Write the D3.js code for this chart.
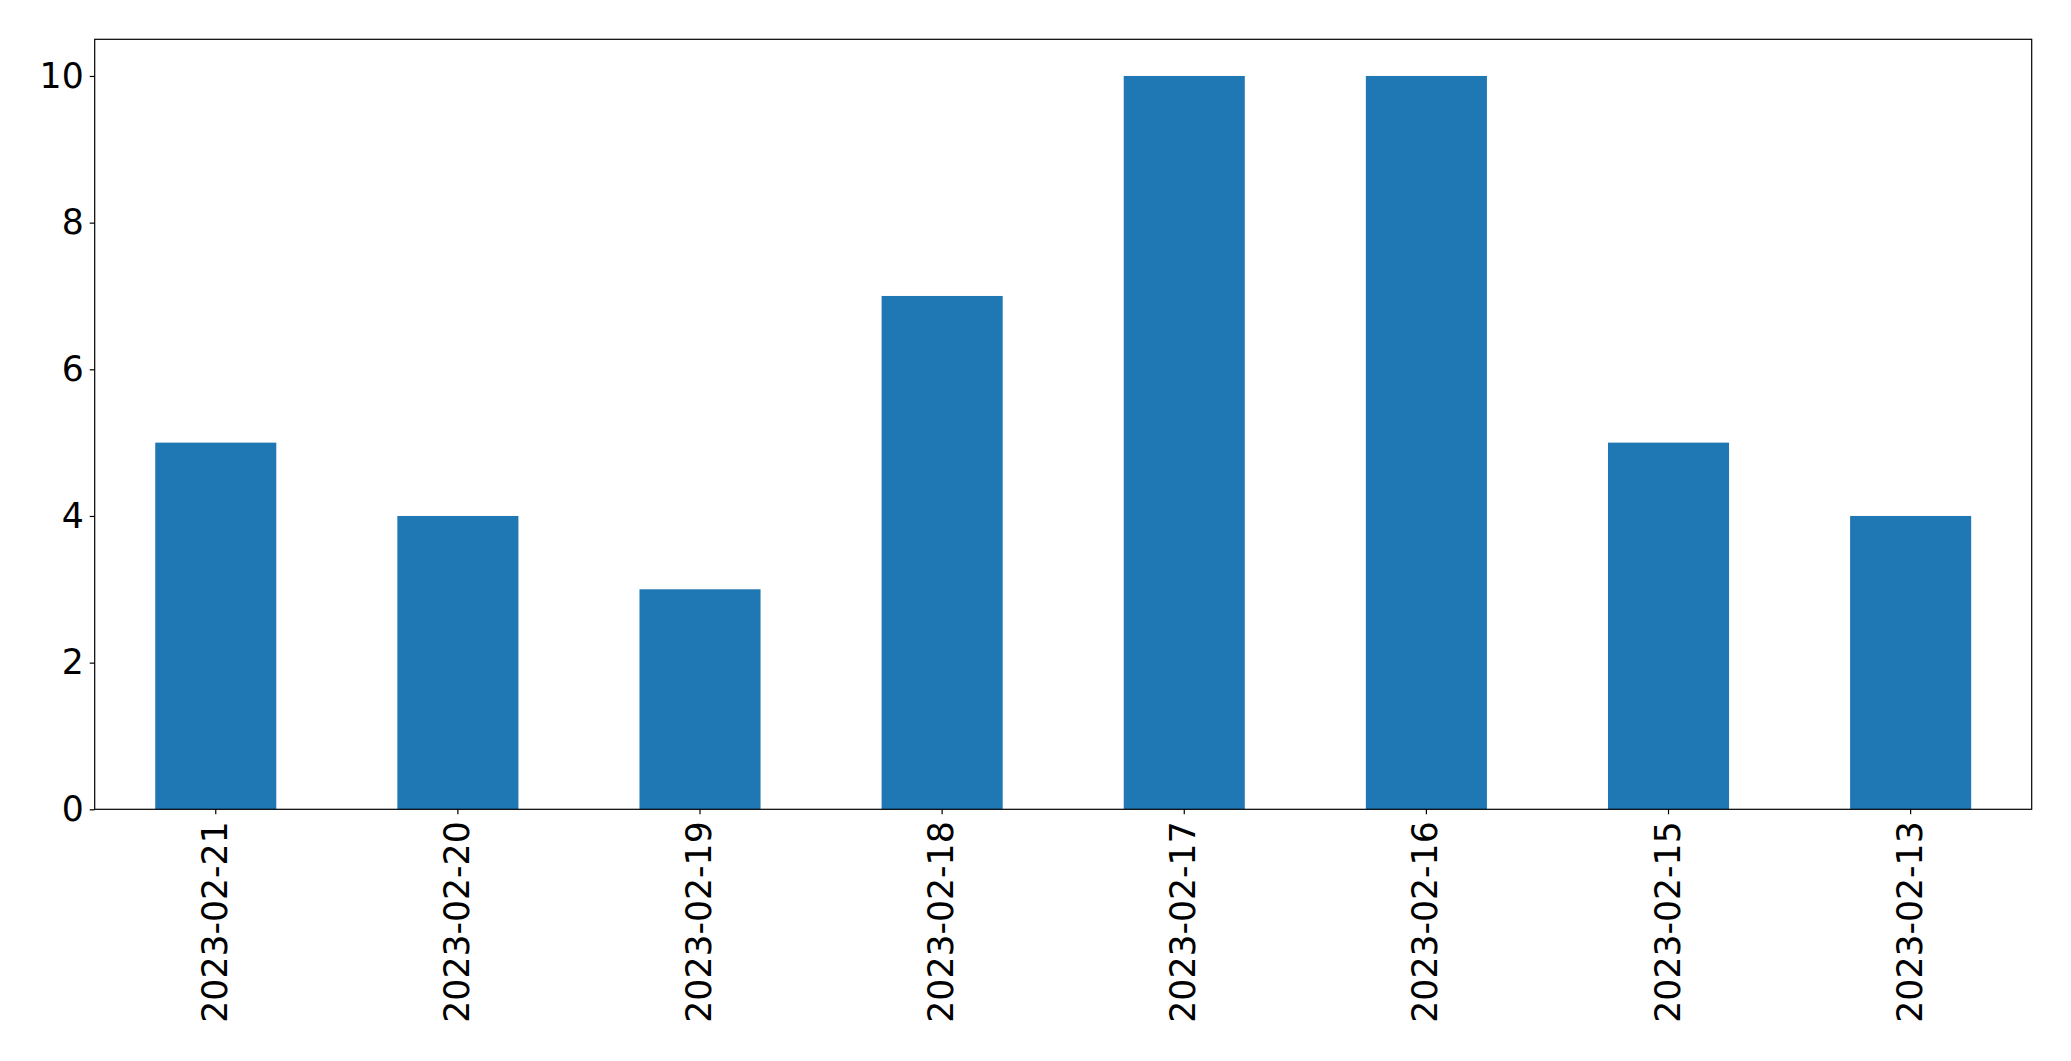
<!DOCTYPE html>
<html><head><meta charset="utf-8">
<script src="https://cdn.jsdelivr.net/npm/d3@7"></script>
<style>body{margin:0;background:#fff}svg{display:block}text{font-family:"DejaVu Sans",sans-serif}</style>
</head><body>
<script>
const categories = ["2023-02-21","2023-02-20","2023-02-19","2023-02-18","2023-02-17","2023-02-16","2023-02-15","2023-02-13"];
const values = [5,4,3,7,10,10,5,4];
const yTicks = [0,2,4,6,8,10];

const W = 2071, H = 1061;
const m = {left: 94.7, right: W - 2031.7, top: 39.3, bottom: H - 809.3};
const svg = d3.select("body").append("svg").attr("width", W).attr("height", H);
const x = d3.scaleBand().domain(categories).range([m.left, W - m.right]).paddingInner(0.5).paddingOuter(0.25);
const y = d3.scaleLinear().domain([0, 10.5]).range([H - m.bottom, m.top]);

svg.append("g").selectAll("rect").data(values).join("rect")
  .attr("x", (d,i) => x(categories[i]))
  .attr("width", x.bandwidth())
  .attr("y", d => y(d))
  .attr("height", d => y(0) - y(d))
  .attr("fill", "#1f77b4");

const fs = 34.67;
const gy = svg.append("g").attr("transform", `translate(${m.left},0)`)
  .call(d3.axisLeft(y).tickValues(yTicks).tickSize(5).tickPadding(6).tickFormat(d3.format("d")));
gy.select(".domain").remove();
gy.selectAll("text").attr("font-size", fs).attr("fill", "#000").attr("font-family", "DejaVu Sans");
gy.selectAll("line").attr("stroke", "#000").attr("stroke-width", 1.2);

const gx = svg.append("g").attr("transform", `translate(0,${H - m.bottom})`)
  .call(d3.axisBottom(x).tickSize(5).tickPadding(6));
gx.select(".domain").remove();
gx.selectAll("line").attr("stroke", "#000").attr("stroke-width", 1.2);
gx.selectAll("text").attr("font-size", fs).attr("fill", "#000").attr("font-family", "DejaVu Sans")
  .attr("transform", "rotate(-90)")
  .attr("text-anchor", "end")
  .attr("x", -12).attr("y", 0).attr("dy", "0.32em");

svg.append("rect").attr("x", m.left).attr("y", m.top)
  .attr("width", W - m.right - m.left).attr("height", H - m.bottom - m.top)
  .attr("fill", "none").attr("stroke", "#000").attr("stroke-width", 1.2);
</script>
</body></html>
